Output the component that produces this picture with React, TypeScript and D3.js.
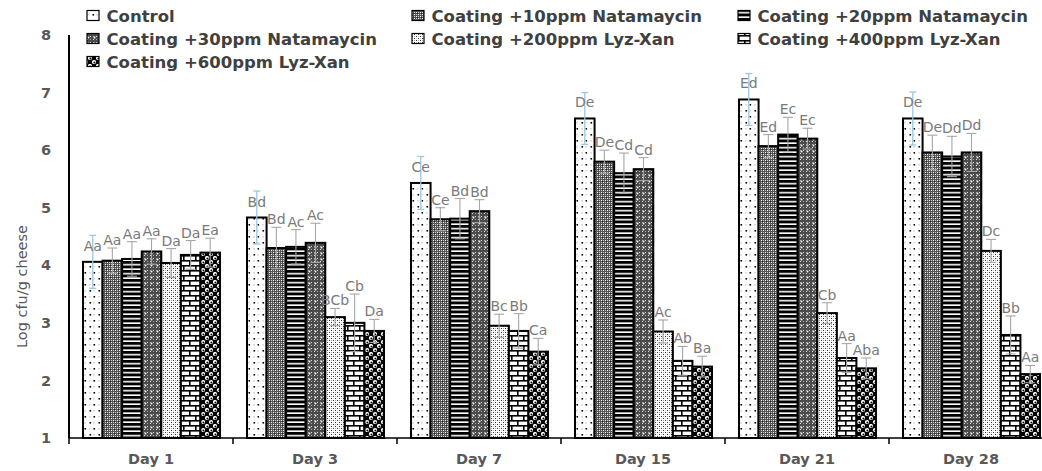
import React from 'react';
import * as d3 from 'd3';

const days = ['Day 1', 'Day 3', 'Day 7', 'Day 15', 'Day 21', 'Day 28'];
const treatments = [
  'Control',
  'Coating +10ppm Natamaycin',
  'Coating +20ppm Natamaycin',
  'Coating +30ppm Natamaycin',
  'Coating +200ppm Lyz-Xan',
  'Coating +400ppm Lyz-Xan',
  'Coating +600ppm Lyz-Xan',
];
const control = [4.06, 4.83, 5.43, 6.55, 6.88, 6.55];
const nat10 = [4.08, 4.30, 4.80, 5.80, 6.07, 5.96];
const nat20 = [4.11, 4.32, 4.81, 5.60, 6.27, 5.89];
const nat30 = [4.24, 4.39, 4.94, 5.67, 6.20, 5.96];
const lyz200 = [4.04, 3.10, 2.95, 2.85, 3.17, 4.25];
const lyz400 = [4.18, 3.00, 2.86, 2.34, 2.39, 2.79];
const lyz600 = [4.22, 2.86, 2.50, 2.24, 2.21, 2.11];

const errControl = [0.46, 0.46, 0.46, 0.45, 0.45, 0.46];
const errNat10 = [0.22, 0.36, 0.2, 0.2, 0.2, 0.3];
const errNat20 = [0.3, 0.3, 0.35, 0.35, 0.3, 0.35];
const errNat30 = [0.22, 0.34, 0.2, 0.2, 0.18, 0.33];
const errLyz200 = [0.25, 0.15, 0.2, 0.2, 0.18, 0.2];
const errLyz400 = [0.25, 0.5, 0.3, 0.25, 0.25, 0.33];
const errLyz600 = [0.25, 0.2, 0.23, 0.18, 0.18, 0.15];

const lblControl = ['Aa', 'Bd', 'Ce', 'De', 'Ed', 'De'];
const lblNat10 = ['Aa', 'Bd', 'Ce', 'De', 'Ed', 'De'];
const lblNat20 = ['Aa', 'Ac', 'Bd', 'Cd', 'Ec', 'Dd'];
const lblNat30 = ['Aa', 'Ac', 'Bd', 'Cd', 'Ec', 'Dd'];
const lblLyz200 = ['Da', 'BCb', 'Bc', 'Ac', 'Cb', 'Dc'];
const lblLyz400 = ['Da', 'Cb', 'Bb', 'Ab', 'Aa', 'Bb'];
const lblLyz600 = ['Ea', 'Da', 'Ca', 'Ba', 'Aba', 'Aa'];

const yTicks = [1, 2, 3, 4, 5, 6, 7, 8];

const values = [control, nat10, nat20, nat30, lyz200, lyz400, lyz600];
const errors = [errControl, errNat10, errNat20, errNat30, errLyz200, errLyz400, errLyz600];
const labels = [lblControl, lblNat10, lblNat20, lblNat30, lblLyz200, lblLyz400, lblLyz600];

const W = 1042;
const H = 471;
const FONT = 'DejaVu Sans, Verdana, sans-serif';

function Patterns() {
  return (
    <defs>
      <pattern id="p0" patternUnits="userSpaceOnUse" width="9" height="12">
        <rect width="9" height="12" fill="#fff" />
        <rect x="2.5" y="2" width="1.6" height="1.6" fill="#000" />
        <rect x="6.5" y="8" width="1.6" height="1.6" fill="#000" />
        <rect x="6.5" y="2.5" width="1" height="0.8" fill="#777" />
        <rect x="2.5" y="8.5" width="1" height="0.8" fill="#777" />
      </pattern>
      <pattern id="p1" patternUnits="userSpaceOnUse" width="4" height="4">
        <rect width="4" height="4" fill="#555" />
        <rect x="0" y="0" width="1" height="1" fill="#fff" />
        <rect x="2" y="2" width="1" height="1" fill="#fff" />
        <rect x="2" y="0" width="1" height="1" fill="#ccc" />
        <rect x="0" y="2" width="1" height="1" fill="#ccc" />
        <rect x="1" y="1" width="1" height="1" fill="#222" />
      </pattern>
      <pattern id="p2" patternUnits="userSpaceOnUse" width="4" height="4.5">
        <rect width="4" height="4.5" fill="#fff" />
        <rect y="0" width="4" height="2.9" fill="#000" />
      </pattern>
      <pattern id="p3" patternUnits="userSpaceOnUse" width="6" height="6">
        <rect width="6" height="6" fill="#4a4a4a" />
        <rect x="0" y="0" width="1" height="1" fill="#ddd" />
        <rect x="3" y="3" width="1" height="1" fill="#ddd" />
        <rect x="3" y="0" width="1" height="1" fill="#aaa" />
        <rect x="0" y="3" width="1" height="1" fill="#aaa" />
        <circle cx="4.5" cy="1.5" r="1" fill="#fff" />
      </pattern>
      <pattern id="p4" patternUnits="userSpaceOnUse" width="4" height="4">
        <rect width="4" height="4" fill="#fff" />
        <rect x="0" y="0" width="1" height="1" fill="#333" />
        <rect x="2" y="2" width="1" height="1" fill="#333" />
        <rect x="2" y="0" width="1" height="1" fill="#aaa" />
        <rect x="0" y="2" width="1" height="1" fill="#ccc" />
      </pattern>
      <pattern id="p5" patternUnits="userSpaceOnUse" width="12" height="10">
        <rect width="12" height="10" fill="#fff" />
        <rect x="0" y="0" width="12" height="1.6" fill="#000" />
        <rect x="0" y="5" width="12" height="1.6" fill="#000" />
        <rect x="0" y="0" width="1.6" height="5" fill="#000" />
        <rect x="6" y="5" width="1.6" height="5" fill="#000" />
      </pattern>
      <pattern id="p6" patternUnits="userSpaceOnUse" width="8" height="8">
        <rect width="8" height="8" fill="#000" />
        <circle cx="2" cy="2" r="2.1" fill="#fff" />
        <circle cx="6" cy="6" r="2.1" fill="#fff" />
        <circle cx="2.4" cy="2.5" r="1" fill="#000" />
        <circle cx="6.4" cy="6.5" r="1" fill="#000" />
      </pattern>
    </defs>
  );
}

export default function App() {
  const x0 = d3.scaleBand<string>().domain(days).range([69, 69 + 164 * days.length]).paddingInner(0).paddingOuter(0);
  const x1 = d3
    .scaleBand<number>()
    .domain(d3.range(treatments.length))
    .range([14, 164 - 13]);
  const y = d3.scaleLinear().domain([1, 8]).range([438, 35]);
  const bw = x1.bandwidth();

  const legendCols = [87, 412, 738];

  return (
    <svg
      width={W}
      height={H}
      style={{ position: 'absolute', left: 0, top: 0, background: '#fff' }}
      fontFamily={FONT}
    >
      <Patterns />
      <rect width={W} height={H} fill="#fff" />

      {/* legend */}
      {treatments.map((t, i) => {
        const r = Math.floor(i / 3);
        const c = i % 3;
        const lx = legendCols[c];
        return (
          <g key={t}>
            <rect x={lx} y={10.5 + 23 * r} width={12} height={10} fill={`url(#p${i})`} stroke="#000" strokeWidth={1.2} />
            <text x={lx + 19.5} y={21.5 + 23 * r} fontSize={16.5} fontWeight="bold" fill="#404040">
              {t}
            </text>
          </g>
        );
      })}

      {/* y ticks */}
      {yTicks.map((t) => (
        <text key={t} x={46} y={y(t)} dy="0.35em" textAnchor="middle" fontSize={14.5} fontWeight="bold" fill="#595959">
          {t}
        </text>
      ))}
      <text
        transform={`translate(22,${(y(1) + y(8)) / 2 + 50}) rotate(-90)`}
        textAnchor="middle"
        dy="0.35em"
        fontSize={14.5}
        fill="#595959"
      >
        Log cfu/g cheese
      </text>

      {/* bars */}
      {days.map((d, di) => (
        <g key={d} transform={`translate(${x0(d)},0)`}>
          {values.map((vals, ti) => (
            <rect
              key={ti}
              x={x1(ti)}
              y={y(vals[di])}
              width={bw}
              height={y(1) - y(vals[di])}
              fill={`url(#p${ti})`}
              stroke="#000"
              strokeWidth={2}
            />
          ))}
          {values.map((vals, ti) => {
            const cx = (x1(ti) as number) + bw / 2;
            const v = vals[di];
            const e = errors[ti][di];
            const isC = ti === 0;
            const col = isC ? '#9cc8e0' : '#a6a6a6';
            const cap = isC ? 3.5 : 5;
            return (
              <g key={'e' + ti} stroke={col} strokeWidth={isC ? 1.3 : 1.1}>
                <line x1={cx} x2={cx} y1={y(v + e)} y2={y(v - e)} />
                <line x1={cx - cap} x2={cx + cap} y1={y(v + e)} y2={y(v + e)} />
                <line x1={cx - cap} x2={cx + cap} y1={y(v - e)} y2={y(v - e)} />
              </g>
            );
          })}
          {values.map((vals, ti) => {
            const cx = (x1(ti) as number) + bw / 2;
            const v = vals[di];
            const e = errors[ti][di];
            const ly = ti === 0 ? y(v) - 11 : y(v + e) - 3;
            return (
              <text key={'l' + ti} x={cx} y={ly} textAnchor="middle" fontSize={14} fill="#7a7a7a">
                {labels[ti][di]}
              </text>
            );
          })}
        </g>
      ))}

      {/* axes */}
      <line x1={69} x2={69} y1={35} y2={438} stroke="#000" strokeWidth={2} />
      <line x1={69} x2={W} y1={438} y2={438} stroke="#000" strokeWidth={1.5} />
      {d3.range(days.length + 1).map((i) => {
        const xx = 69 + 164 * i;
        return <line key={i} x1={xx} x2={xx} y1={438} y2={444} stroke="#000" strokeWidth={1.5} />;
      })}
      {days.map((d) => (
        <text key={d} x={(x0(d) as number) + x0.bandwidth() / 2} y={464} textAnchor="middle" fontSize={14.5} fontWeight="bold" fill="#595959">
          {d}
        </text>
      ))}
    </svg>
  );
}
